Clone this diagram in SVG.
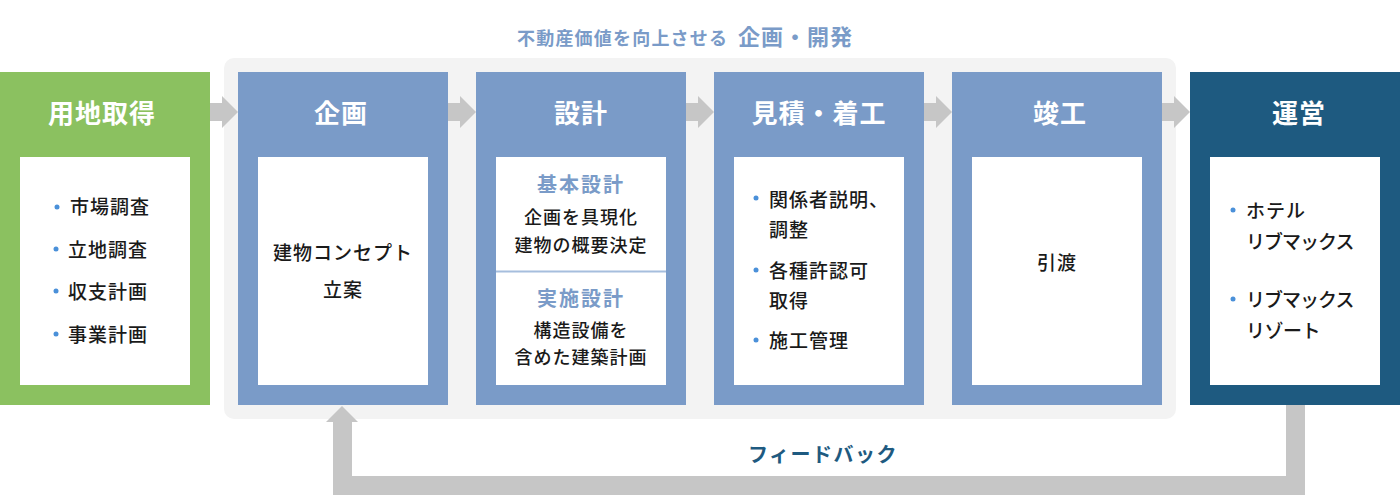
<svg xmlns="http://www.w3.org/2000/svg" width="1400" height="496" viewBox="0 0 1400 496">
<style>
text{font-family:"Noto Sans CJK JP","Noto Sans",sans-serif;}
.head{font-size:26px;font-weight:700;fill:#ffffff;text-anchor:middle;letter-spacing:1px;}
.body{font-size:19px;font-weight:500;fill:#1a1a1a;letter-spacing:1px;}
.mid{text-anchor:middle;}
.sub{font-size:20px;font-weight:700;fill:#7a9bc8;text-anchor:middle;letter-spacing:2px;}
.small{font-size:18px;font-weight:500;fill:#1a1a1a;text-anchor:middle;letter-spacing:1px;}
.inner{fill:#ffffff;}
.dot{fill:#4a90d9;}
.arr{fill:#c6c6c6;}
</style>
<rect x="224" y="58" width="952" height="361" rx="10" fill="#f3f3f3"/>
<text x="517" y="45" fill="#7a9bc8" font-weight="700"><tspan font-size="18" letter-spacing="1.2">不動産価値を向上させる</tspan><tspan x="738" font-size="22" letter-spacing="1">企画・開発</tspan></text>
<g id="connectors">
<polygon class="arr" points="210,103 222,103 222,96 238,112 222,128 222,121 210,121"/>
<polygon class="arr" points="448,103 460,103 460,96 476,112 460,128 460,121 448,121"/>
<polygon class="arr" points="686,103 698,103 698,96 714,112 698,128 698,121 686,121"/>
<polygon class="arr" points="924,103 936,103 936,96 952,112 936,128 936,121 924,121"/>
<polygon class="arr" points="1162,103 1174,103 1174,96 1190,112 1174,128 1174,121 1162,121"/>
<polygon class="arr" points="1286,405 1305,405 1305,495 333,495 333,422 326,422 342,406 358,422 352,422 352,476 1286,476"/>
<text x="823" y="462" text-anchor="middle" font-size="20" font-weight="700" fill="#1e5a80" letter-spacing="1.5">フィードバック</text>
</g>
<g id="node-youchi">
<rect x="0" y="72" width="210" height="333" fill="#8bc160"/>
<text class="head" x="102" y="123">用地取得</text>
<rect class="inner" x="20" y="157" width="170" height="228"/>
<circle class="dot" cx="57" cy="207" r="2.5"/>
<text class="body" x="70" y="214">市場調査</text>
<circle class="dot" cx="56" cy="249" r="2.5"/>
<text class="body" x="68" y="257">立地調査</text>
<circle class="dot" cx="56" cy="291" r="2.5"/>
<text class="body" x="68" y="299">収支計画</text>
<circle class="dot" cx="56" cy="334" r="2.5"/>
<text class="body" x="68" y="342">事業計画</text>
</g>
<g id="node-kikaku">
<rect x="238" y="72" width="210" height="333" fill="#7a9bc8"/>
<text class="head" x="341" y="123">企画</text>
<rect class="inner" x="258" y="157" width="170" height="228"/>
<text class="body mid" x="343" y="260">建物コンセプト</text>
<text class="body mid" x="343" y="297">立案</text>
</g>
<g id="node-sekkei">
<rect x="476" y="72" width="210" height="333" fill="#7a9bc8"/>
<text class="head" x="581" y="123">設計</text>
<rect class="inner" x="496" y="157" width="170" height="228"/>
<line x1="496" y1="271.5" x2="666" y2="271.5" stroke="#a6bedd" stroke-width="2"/>
<text class="sub" x="581" y="192">基本設計</text>
<text class="small" x="581" y="224">企画を具現化</text>
<text class="small" x="581" y="252">建物の概要決定</text>
<text class="sub" x="581" y="306">実施設計</text>
<text class="small" x="581" y="337">構造設備を</text>
<text class="small" x="581" y="364">含めた建築計画</text>
</g>
<g id="node-mitsumori">
<rect x="714" y="72" width="210" height="333" fill="#7a9bc8"/>
<text class="head" x="819" y="123">見積・着工</text>
<rect class="inner" x="734" y="157" width="170" height="228"/>
<circle class="dot" cx="756" cy="198" r="2.5"/>
<text class="body" x="769" y="207">関係者説明、</text>
<text class="body" x="769" y="237">調整</text>
<circle class="dot" cx="756" cy="270" r="2.5"/>
<text class="body" x="769" y="278">各種許認可</text>
<text class="body" x="769" y="308">取得</text>
<circle class="dot" cx="756" cy="340" r="2.5"/>
<text class="body" x="769" y="348">施工管理</text>
</g>
<g id="node-shunko">
<rect x="952" y="72" width="210" height="333" fill="#7a9bc8"/>
<text class="head" x="1060" y="123">竣工</text>
<rect class="inner" x="972" y="157" width="170" height="228"/>
<text class="body mid" x="1057" y="270">引渡</text>
</g>
<g id="node-unei">
<rect x="1190" y="72" width="210" height="333" fill="#1e5a80"/>
<text class="head" x="1299" y="123">運営</text>
<rect class="inner" x="1210" y="157" width="170" height="228"/>
<circle class="dot" cx="1233" cy="210" r="2.5"/>
<text class="body" x="1246" y="218">ホテル</text>
<text class="body" x="1246" y="249" style="letter-spacing:-1px">リブマックス</text>
<circle class="dot" cx="1233" cy="299" r="2.5"/>
<text class="body" x="1246" y="307" style="letter-spacing:-1px">リブマックス</text>
<text class="body" x="1246" y="338" style="letter-spacing:-0.5px">リゾート</text>
</g>
</svg>
